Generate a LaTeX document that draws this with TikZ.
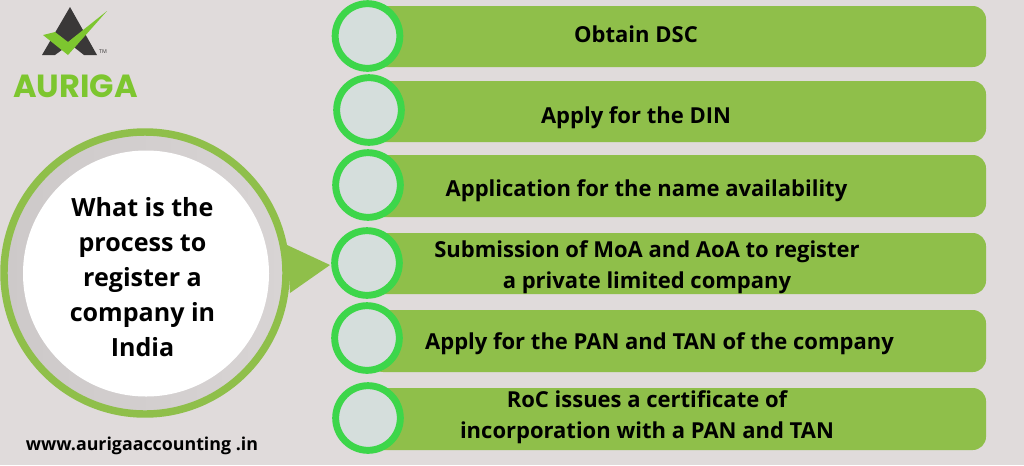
\documentclass[tikz,border=0pt]{standalone}
\usepackage{fontspec}
\setmainfont{Open Sans}
\newfontfamily\logofont{Poppins}
\definecolor{bgc}{HTML}{E0DBDB}
\definecolor{barc}{HTML}{8FBF4A}
\definecolor{ringc}{HTML}{3DD64A}
\definecolor{innerc}{HTML}{D5DEDC}
\definecolor{bandc}{HTML}{CDC9C9}
\definecolor{bandl}{HTML}{D8D4D4}
\definecolor{logog}{HTML}{7DC62F}
\definecolor{darkc}{HTML}{3A3838}
\tikzset{
 barbox/.style={fill=barc,rounded corners=10pt,draw=none},
 dot/.style={circle,draw=ringc,line width=5.2pt,fill=innerc,minimum size=48.5pt,inner sep=0pt},
 steptext/.style={font=\bfseries\fontsize{16.5pt}{23pt}\selectfont,align=center,text=black,inner sep=0pt},
 lefttext/.style={font=\bfseries\fontsize{18.8pt}{26.4pt}\selectfont,align=center,text=black,inner sep=0pt},
}
\begin{document}
\begin{tikzpicture}[x=0.75pt,y=-0.75pt]
\useasboundingbox (0,0) rectangle (1024,465);
\fill[bgc] (0,0) rectangle (1024,465);
% logo
\fill[darkc] (70,7) -- (42,55) -- (55,55) -- (70,44) -- (84,55) -- (97,55) -- cycle;
\fill[logog] (43,35) -- (55,32) -- (68,42) -- (107,11) -- (68,55) -- cycle;
\node[font=\fontsize{4pt}{4pt}\selectfont,text=darkc,inner sep=0pt] (tm) at (103,52) {TM};
\node[font=\logofont\bfseries\fontsize{24pt}{24pt}\selectfont,text=logog,inner sep=0pt] (brand) at (75.5,86) {AURIGA};
% big circle
\shade[left color=bandc,right color=bandl] (145,273) circle (141);
\draw[barc,line width=5.6pt] (145,273) circle (141);
\fill[barc] (287,245) -- (330,265) -- (290,293) -- cycle;
\node[circle,fill=white,minimum size=184.5pt,inner sep=0pt] (hub) at (146,273.5) {};
\node[lefttext] (q) at (142.5,277) {What is the\\process to\\register a\\company in\\India};
\node[font=\bfseries\fontsize{13.35pt}{13pt}\selectfont,inner sep=0pt] (web) at (142,446) {www.aurigaaccounting .in};
% bars
\fill[barbox] (370,6) rectangle (986,67);
\fill[barbox] (370,81) rectangle (986,142);
\fill[barbox] (370,155) rectangle (986,217);
\fill[barbox] (370,233) rectangle (986,294);
\fill[barbox] (370,310) rectangle (986,372);
\fill[barbox] (370,388) rectangle (986,450);
\node[dot] (d1) at (367.5,36) {};
\node[dot] (d2) at (369,110) {};
\node[dot] (d3) at (368,185) {};
\node[dot] (d4) at (367,263) {};
\node[dot] (d5) at (367,338) {};
\node[dot] (d6) at (368,418) {};
\node[steptext] (s1) at (636,34) {Obtain DSC};
\node[steptext] (s2) at (636,117.5) {Apply for the DIN};
\node[steptext] (s3) at (646.5,190.5) {Application for the name availability};
\node[steptext] (s4) at (647,267.5) {Submission of MoA and AoA to register\\a private limited company};
\node[steptext] (s5) at (659.5,343.5) {Apply for the PAN and TAN of the company};
\node[steptext] (s6) at (647,417.5) {RoC issues a certificate of\\incorporation with a PAN and TAN};
\end{tikzpicture}
\end{document}
